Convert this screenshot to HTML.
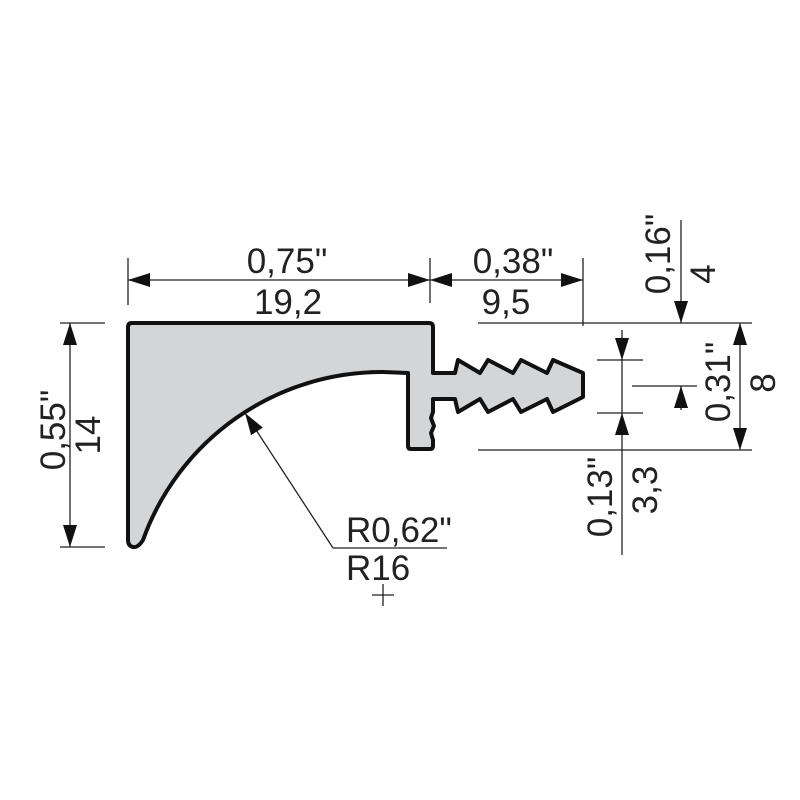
<!DOCTYPE html>
<html><head><style>body{margin:0;background:#fff}svg{display:block}text{font-family:"Liberation Sans",sans-serif;font-size:35px;fill:#222}</style></head>
<body>
<svg width="800" height="800" viewBox="0 0 800 800" xmlns="http://www.w3.org/2000/svg">
<defs>
<marker id="a" viewBox="0 0 22 14" refX="22" refY="7" markerWidth="22" markerHeight="14" markerUnits="userSpaceOnUse" orient="auto-start-reverse"><path d="M0,0 L22,7 L0,14z" fill="#111"/></marker>
</defs>
<path d="M132,323 L429,323 Q433,323 433,327 L433,373 L455,373 L458,360 L480,373 L488,360 L513,373 L521,360 L547,373 L553,360 L583,373 L583,397 L553,412 L547,399 L521,412 L513,399 L488,412 L480,399 L458,412 L455,399 L433,399 L433,412 L431,418 L434,426 L431,433 L433,440 L433,446 Q433,449 430,449 L411,449 Q408,449 408,446 L408,373 L383,372 A254 254 0 0 0 143,540 Q138,548 133,547 Q128,546 128,540 L128,327 Q128,323 132,323 Z" fill="#d4d5d7" stroke="#111" stroke-width="4" stroke-linejoin="round"/>
<g stroke="#222" stroke-width="1.3" fill="none">
<line x1="128" y1="258" x2="128" y2="305"/>
<line x1="430" y1="258" x2="430" y2="303"/>
<line x1="583" y1="258" x2="583" y2="326"/>
<line x1="128" y1="280" x2="430" y2="280" marker-start="url(#a)" marker-end="url(#a)" />
<line x1="430" y1="280" x2="583" y2="280" marker-start="url(#a)" marker-end="url(#a)"/>
<line x1="60" y1="323" x2="105" y2="323"/>
<line x1="60" y1="547" x2="105" y2="547"/>
<line x1="70" y1="323" x2="70" y2="547" marker-start="url(#a)" marker-end="url(#a)"/>
<line x1="478" y1="323" x2="752" y2="323"/>
<line x1="478" y1="450" x2="752" y2="450"/>
<line x1="740" y1="323" x2="740" y2="450" marker-start="url(#a)" marker-end="url(#a)"/>
<line x1="681" y1="220" x2="681" y2="323" marker-end="url(#a)"/>
<line x1="632" y1="386" x2="697" y2="386"/>
<line x1="681" y1="410" x2="681" y2="386" marker-end="url(#a)"/>
<line x1="597" y1="360" x2="643" y2="360"/>
<line x1="597" y1="413" x2="643" y2="413"/>
<line x1="622" y1="330" x2="622" y2="360" marker-end="url(#a)"/>
<line x1="622" y1="555" x2="622" y2="413" marker-end="url(#a)"/>
<line x1="622" y1="360" x2="622" y2="413"/>
<line x1="333" y1="548" x2="245" y2="413" marker-end="url(#a)"/>
<line x1="333" y1="548" x2="447" y2="548"/>
<line x1="372" y1="595" x2="394" y2="595"/>
<line x1="383" y1="584" x2="383" y2="606"/>
</g>
<text x="287" y="273" text-anchor="middle">0,75"</text>
<text x="288" y="314" text-anchor="middle">19,2</text>
<text x="513" y="273" text-anchor="middle">0,38"</text>
<text x="506" y="314" text-anchor="middle">9,5</text>
<text x="346" y="542">R0,62"</text>
<text x="346" y="580">R16</text>
<text transform="translate(65,430) rotate(-90)" text-anchor="middle">0,55"</text>
<text transform="translate(100,435) rotate(-90)" text-anchor="middle">14</text>
<text transform="translate(670,254) rotate(-90)" text-anchor="middle">0,16"</text>
<text transform="translate(715,274) rotate(-90)" text-anchor="middle">4</text>
<text transform="translate(730,382) rotate(-90)" text-anchor="middle">0,31"</text>
<text transform="translate(775,383) rotate(-90)" text-anchor="middle">8</text>
<text transform="translate(612,497) rotate(-90)" text-anchor="middle">0,13"</text>
<text transform="translate(657,490) rotate(-90)" text-anchor="middle">3,3</text>
</svg>
</body></html>
